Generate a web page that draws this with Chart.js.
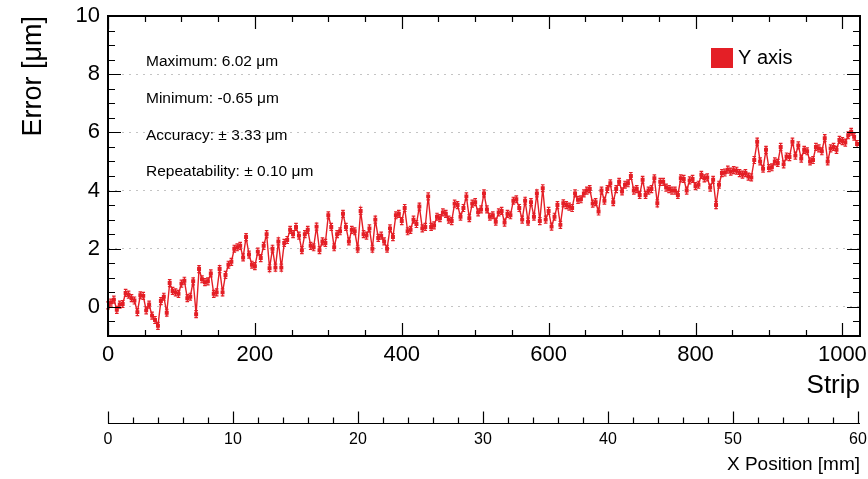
<!DOCTYPE html>
<html>
<head>
<meta charset="utf-8">
<script src="https://cdn.jsdelivr.net/npm/chart.js@4/dist/chart.umd.min.js"></script>
<style>
  html, body { margin: 0; padding: 0; background: #fff; }
  #wrap { width: 868px; height: 479px; }
</style>
</head>
<body>
<div id="wrap"><canvas id="chart" width="868" height="479"></canvas></div>
<script>
  const red = '#e41f26';

  // error per strip (um), read every 4 strips
  const errorY = [
    0.05, 0.15, 0.25, -0.1, 0.08, 0.1, 0.48, 0.42, 0.3, 0.22, -0.18, 0.4, 0.38, -0.12, 0.08, -0.3,
    -0.45, -0.65, 0.2, 0.35, -0.2, 0.82, 0.55, 0.5, 0.45, 0.8, 0.9, 0.3, 0.35, 0.88, -0.25, 1.3,
    0.95, 0.85, 0.88, 1.15, 0.45, 0.5, 1.3, 0.5, 1.1, 1.45, 1.55, 2.0, 2.05, 2.1, 1.7, 2.4,
    1.8, 1.45, 1.4, 1.9, 1.68, 2.1, 2.5, 1.33, 2.0, 1.35, 2.25, 1.35, 2.2, 2.3, 2.65, 2.5,
    2.75, 2.45, 1.95, 2.5, 2.65, 2.1, 2.05, 2.76, 1.95, 2.25, 2.2, 3.15, 2.75, 2.05, 2.5, 2.6,
    3.2, 2.75, 2.25, 2.65, 2.6, 2.0, 3.3, 2.5, 2.45, 2.7, 2.0, 3.0, 2.37, 2.45, 2.25, 2.0,
    2.7, 2.4, 3.15, 3.2, 2.95, 3.4, 2.6, 2.65, 3.0, 2.85, 3.45, 2.7, 2.75, 3.8, 2.75, 2.8,
    3.1, 3.05, 3.25, 3.2, 3.0, 2.95, 3.55, 3.5, 3.1, 3.4, 3.8, 3.05, 3.55, 3.6, 3.25, 3.35,
    3.9, 3.35, 3.1, 3.15, 2.93, 3.25, 3.3, 2.9, 3.2, 3.15, 3.65, 3.7, 3.4, 3.0, 3.65, 2.93,
    3.6, 3.1, 3.9, 2.95, 4.08, 3.0, 3.3, 2.76, 3.1, 3.5, 2.82, 3.56, 3.5, 3.45, 3.4, 3.9,
    3.68, 3.7, 3.9, 4.0, 4.05, 3.55, 3.6, 3.28, 4.0, 3.65, 4.05, 4.25, 3.6, 4.05, 4.3, 3.97,
    4.2, 4.25, 4.5, 4.0, 4.05, 3.85, 4.37, 3.85, 4.0, 4.05, 4.42, 3.56, 4.3, 4.3, 4.1, 4.05,
    4.0, 4.0, 3.85, 4.42, 4.4, 4.0, 4.35, 4.4, 4.15, 4.2, 4.54, 4.42, 4.45, 4.1, 4.37, 3.5,
    4.2, 4.6, 4.62, 4.72, 4.65, 4.7, 4.68, 4.6, 4.55, 4.6, 4.48, 4.45, 5.05, 5.68, 5.0, 4.75,
    5.4, 4.77, 4.8, 5.0, 4.95, 5.5, 4.9, 5.17, 5.15, 5.68, 5.2, 5.55, 5.1, 5.4, 5.35, 5.0,
    5.05, 5.5, 5.45, 5.35, 5.8, 5.0, 5.45, 5.5, 5.4, 5.74, 5.7, 5.65, 5.9, 6.02, 5.85, 5.6
  ];
  const strips = errorY.map((_, i) => i * 4);
  const errorBar = 0.12;

  const xTicks = [0, 200, 400, 600, 800, 1000];
  const yTicks = [0, 2, 4, 6, 8, 10];
  const mmTicks = [0, 10, 20, 30, 40, 50, 60];

  const statLines = [
    'Maximum: 6.02 \u03bcm',
    'Minimum: -0.65 \u03bcm',
    'Accuracy: \u00b1 3.33 \u03bcm',
    'Repeatability: \u00b1 0.10 \u03bcm'
  ];

  Chart.defaults.font.family = "'Liberation Sans', Arial, sans-serif";
  Chart.defaults.color = '#000';

  const setTicks = list => scale => { scale.ticks = list.map(v => ({ value: v })); };
  const plain = v => String(v);
  const fitTo = (w, h) => s => {
    if (w) s.width = w;
    if (h) s.height = h;
    s.paddingLeft = s.paddingRight = s.paddingTop = s.paddingBottom = 0;
  };

  const rootFrame = {
    id: 'rootFrame',
    afterDatasetsDraw(chart) {
      const { ctx, scales: { x, y } } = chart;
      ctx.save();
      ctx.strokeStyle = red;
      ctx.lineWidth = 1.2;
      ctx.beginPath();
      errorY.forEach((v, i) => {
        const px = x.getPixelForValue(strips[i]);
        const top = y.getPixelForValue(v + errorBar);
        const bot = y.getPixelForValue(v - errorBar);
        ctx.moveTo(px, top); ctx.lineTo(px, bot);
        ctx.moveTo(px - 1.8, top); ctx.lineTo(px + 1.8, top);
        ctx.moveTo(px - 1.8, bot); ctx.lineTo(px + 1.8, bot);
      });
      ctx.stroke();
      ctx.restore();
    },
    afterDraw(chart) {
      const { ctx, chartArea: a, scales: { x, y, x2 } } = chart;
      ctx.save();
      ctx.strokeStyle = '#000';
      ctx.lineWidth = 2;
      ctx.strokeRect(a.left, a.top, a.right - a.left, a.bottom - a.top);

      ctx.lineWidth = 1.2;
      ctx.beginPath();
      for (let v = 0; v <= 1024; v += 50) {
        const px = Math.round(x.getPixelForValue(v)) + 0.5;
        const len = v % 200 === 0 ? 13 : 6;
        ctx.moveTo(px, a.bottom); ctx.lineTo(px, a.bottom - len);
        ctx.moveTo(px, a.top); ctx.lineTo(px, a.top + len);
      }
      for (let v = -1; v <= 10; v += 0.5) {
        const py = Math.round(y.getPixelForValue(v)) + 0.5;
        const len = v % 2 === 0 ? 13 : 7;
        ctx.moveTo(a.left, py); ctx.lineTo(a.left + len, py);
        ctx.moveTo(a.right, py); ctx.lineTo(a.right - len, py);
      }
      // secondary mm axis
      const ay = x2.top + 15.5;
      ctx.moveTo(a.left, ay); ctx.lineTo(a.right, ay);
      for (let v = 0; v <= 60; v += 2) {
        const px = Math.round(x2.getPixelForValue(v)) + 0.5;
        const len = v % 10 === 0 ? 12 : 6;
        ctx.moveTo(px, ay); ctx.lineTo(px, ay - len);
      }
      ctx.stroke();

      // statistics text
      ctx.fillStyle = '#000';
      ctx.font = "15.5px 'Liberation Sans', Arial, sans-serif";
      ctx.textBaseline = 'middle';
      ctx.textAlign = 'left';
      statLines.forEach((t, i) => ctx.fillText(t, a.left + 38, a.top + 46 + i * 36.7));

      // legend
      const ds = chart.data.datasets[0];
      ctx.fillStyle = red;
      ctx.fillRect(a.right - 149, a.top + 32, 22, 20);
      ctx.fillStyle = '#000';
      ctx.font = "20px 'Liberation Sans', Arial, sans-serif";
      ctx.fillText(ds.label, a.right - 122, a.top + 42);
      ctx.restore();
    }
  };

  new Chart(document.getElementById('chart'), {
    type: 'line',
    data: {
      datasets: [{
        label: 'Y axis',
        data: strips.map((s, i) => ({ x: s, y: errorY[i] })),
        borderColor: red,
        backgroundColor: red,
        borderWidth: 1.4,
        pointRadius: 1.8,
        pointStyle: 'rect',
        tension: 0
      }]
    },
    options: {
      responsive: false,
      animation: false,
      layout: { padding: { left: 0, right: 8, top: 16, bottom: 0 } },
      plugins: { legend: { display: false }, tooltip: { enabled: false } },
      scales: {
        x: {
          type: 'linear', position: 'bottom', weight: 0,
          min: 0, max: 1024,
          afterBuildTicks: setTicks(xTicks),
          afterFit: fitTo(0, 72),
          grid: { display: false, drawTicks: false },
          border: { display: false },
          ticks: { font: { size: 22 }, padding: 6, maxRotation: 0, autoSkip: false, callback: plain },
          title: { display: true, text: 'Strip', align: 'end', font: { size: 26 }, padding: { top: 0, bottom: 7 } }
        },
        x2: {
          type: 'linear', position: 'bottom', weight: 1,
          min: 0, max: 60.16,
          afterBuildTicks: setTicks(mmTicks),
          afterFit: fitTo(0, 71),
          grid: { display: false, drawTicks: false },
          border: { display: false },
          ticks: { font: { size: 16 }, padding: 22, maxRotation: 0, autoSkip: false, callback: plain },
          title: { display: true, text: 'X Position [mm]', align: 'end', font: { size: 19 }, padding: { top: 0, bottom: 3 } }
        },
        y: {
          min: -1, max: 10,
          afterBuildTicks: setTicks(yTicks),
          afterFit: fitTo(108, 0),
          grid: { color: '#c4c4c4', lineWidth: 1, drawTicks: false },
          border: { display: false, dash: [2, 5] },
          ticks: { font: { size: 22 }, padding: 8, callback: plain },
          title: { display: true, text: 'Error [\u03bcm]', align: 'end', font: { size: 27 }, padding: { top: 17, bottom: 0 } }
        }
      }
    },
    plugins: [rootFrame]
  });
</script>
</body>
</html>
